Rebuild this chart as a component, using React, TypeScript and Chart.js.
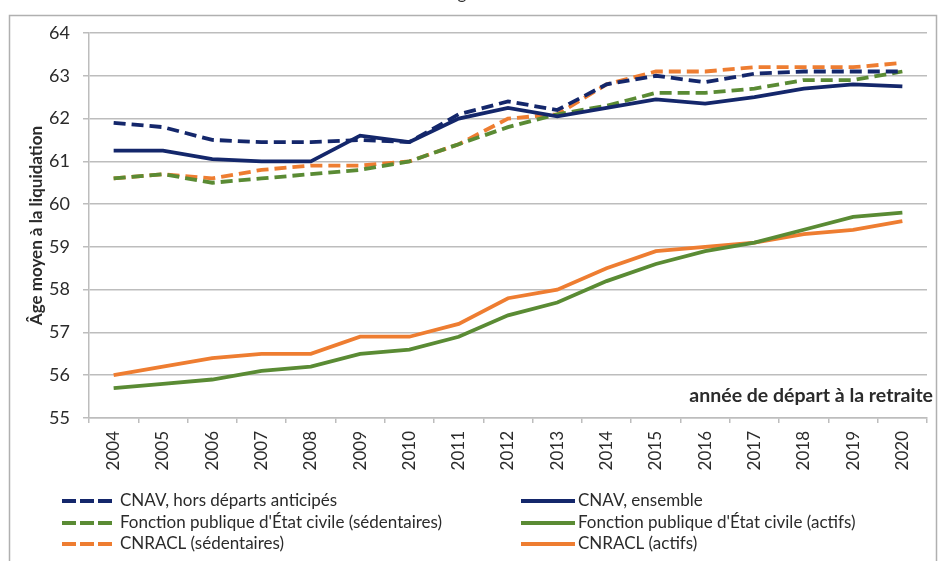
import React, { useEffect, useRef } from "react";
import { Chart, registerables } from "chart.js";

Chart.register(...registerables);

const years = ["2004","2005","2006","2007","2008","2009","2010","2011","2012","2013","2014","2015","2016","2017","2018","2019","2020"];

const cnavHors = [61.9, 61.8, 61.5, 61.45, 61.45, 61.5, 61.45, 62.1, 62.4, 62.2, 62.8, 63.0, 62.85, 63.05, 63.1, 63.1, 63.1];
const cnavEnsemble = [61.25, 61.25, 61.05, 61.0, 61.0, 61.6, 61.45, 62.0, 62.25, 62.05, 62.25, 62.45, 62.35, 62.5, 62.7, 62.8, 62.75];
const fpSedentaires = [60.6, 60.7, 60.5, 60.6, 60.7, 60.8, 61.0, 61.4, 61.8, 62.1, 62.3, 62.6, 62.6, 62.7, 62.9, 62.9, 63.1];
const fpActifs = [55.7, 55.8, 55.9, 56.1, 56.2, 56.5, 56.6, 56.9, 57.4, 57.7, 58.2, 58.6, 58.9, 59.1, 59.4, 59.7, 59.8];
const cnraclSedentaires = [60.6, 60.7, 60.6, 60.8, 60.9, 60.9, 61.0, 61.4, 62.0, 62.1, 62.8, 63.1, 63.1, 63.2, 63.2, 63.2, 63.3];
const cnraclActifs = [56.0, 56.2, 56.4, 56.5, 56.5, 56.9, 56.9, 57.2, 57.8, 58.0, 58.5, 58.9, 59.0, 59.1, 59.3, 59.4, 59.6];

const seriesLabels = [
  "CNAV, hors départs anticipés",
  "CNAV, ensemble",
  "Fonction publique d'État civile (sédentaires)",
  "Fonction publique d'État civile (actifs)",
  "CNRACL (sédentaires)",
  "CNRACL (actifs)",
];

const yTitle = "Âge moyen à la liquidation";
const xTitle = "année de départ à la retraite";

const NAVY = "#14276b";
const GREEN = "#5a8b34";
const ORANGE = "#ee7d31";
const GRID = "#bdbdbd";
const TEXT = "#2b2b2b";
const FONT = "Lato, 'Open Sans', sans-serif";
const DASH = [12, 6];

const decorPlugin = {
  id: "decor",
  beforeDraw(chart: any) {
    const ctx = chart.ctx;
    ctx.save();
    ctx.fillStyle = "#ffffff";
    ctx.fillRect(0, 0, chart.width, chart.height);
    ctx.strokeStyle = "#b0b0b0";
    ctx.lineWidth = 1.5;
    ctx.beginPath();
    ctx.moveTo(9.5, chart.height + 5);
    ctx.lineTo(9.5, 15.5);
    ctx.lineTo(936.5, 15.5);
    ctx.lineTo(936.5, chart.height + 5);
    ctx.stroke();
    // cropped title fragment
    ctx.fillStyle = "#333";
    ctx.font = `17px ${FONT}`;
    ctx.textAlign = "center";
    ctx.textBaseline = "alphabetic";
    ctx.fillText("g", 462, -1);
    ctx.restore();
  },
  afterDraw(chart: any) {
    const ctx = chart.ctx;
    const area = chart.chartArea;
    ctx.save();
    // x axis title inside plot area
    ctx.fillStyle = TEXT;
    ctx.font = `bold 19.5px ${FONT}`;
    ctx.textAlign = "right";
    ctx.textBaseline = "middle";
    ctx.fillText(xTitle, area.right + 6, area.bottom - 22);

    // legend
    const cols = [
      { lx0: 62, lx1: 112, tx: 120 },
      { lx0: 521, lx1: 575, tx: 578 },
    ];
    const rows = [501, 523, 544];
    ctx.font = `17px ${FONT}`;
    ctx.textAlign = "left";
    ctx.textBaseline = "middle";
    chart.data.datasets.forEach((ds: any, i: number) => {
      const c = cols[i % 2];
      const y = rows[Math.floor(i / 2)];
      ctx.strokeStyle = ds.borderColor;
      ctx.lineWidth = 4;
      ctx.lineCap = "butt";
      ctx.setLineDash(ds.borderDash && ds.borderDash.length ? [14, 4] : []);
      ctx.beginPath();
      ctx.moveTo(c.lx0, y);
      ctx.lineTo(c.lx1, y);
      ctx.stroke();
      ctx.setLineDash([]);
      ctx.fillStyle = TEXT;
      ctx.fillText(ds.label, c.tx, y);
    });
    ctx.restore();
  },
};

export default function App() {
  const ref = useRef<HTMLCanvasElement>(null);

  useEffect(() => {
    document.body.style.margin = "0";
    const mk = (label: string, data: number[], color: string, dashed: boolean) => ({
      label,
      data,
      borderColor: color,
      backgroundColor: color,
      borderWidth: 3.8,
      borderDash: dashed ? DASH : [],
      pointRadius: 0,
      tension: 0,
      fill: false,
    });
    const chart = new Chart(ref.current as HTMLCanvasElement, {
      type: "line",
      data: {
        labels: years,
        datasets: [
          mk(seriesLabels[0], cnavHors, NAVY, true),
          mk(seriesLabels[1], cnavEnsemble, NAVY, false),
          mk(seriesLabels[2], fpSedentaires, GREEN, true),
          mk(seriesLabels[3], fpActifs, GREEN, false),
          mk(seriesLabels[4], cnraclSedentaires, ORANGE, true),
          mk(seriesLabels[5], cnraclActifs, ORANGE, false),
        ],
      },
      options: {
        animation: false,
        responsive: false,
        devicePixelRatio: 1,
        layout: { padding: { left: 0, right: 11, top: 33, bottom: 88 } },
        plugins: {
          legend: { display: false },
          tooltip: { enabled: false },
        },
        scales: {
          x: {
            offset: true,
            grid: {
              offset: true,
              drawOnChartArea: false,
              drawTicks: true,
              tickLength: 5,
              color: GRID,
              lineWidth: 1.5,
            },
            border: { display: true, color: GRID, width: 1.5 },
            ticks: {
              minRotation: 90,
              maxRotation: 90,
              autoSkip: false,
              padding: 8,
              color: TEXT,
              font: { family: FONT, size: 17 },
            },
            afterFit: (s: any) => {
              s.height = 55;
            },
          },
          y: {
            min: 55,
            max: 64,
            grid: {
              color: GRID,
              lineWidth: 1.5,
              drawTicks: true,
              tickLength: 6,
            },
            border: { display: true, color: GRID, width: 1.5 },
            ticks: {
              stepSize: 1,
              padding: 13,
              color: TEXT,
              font: { family: FONT, size: 18 },
            },
            title: {
              display: true,
              text: yTitle,
              color: TEXT,
              font: { family: FONT, size: 17, weight: "bold" },
              padding: { top: 26, bottom: 0 },
            },
            afterFit: (s: any) => {
              s.width = 89;
            },
          },
        },
      },
      plugins: [decorPlugin],
    });
    return () => chart.destroy();
  }, []);

  return (
    <div style={{ width: 938, height: 561, overflow: "hidden" }}>
      <canvas ref={ref} width={938} height={561} style={{ display: "block" }} />
    </div>
  );
}
